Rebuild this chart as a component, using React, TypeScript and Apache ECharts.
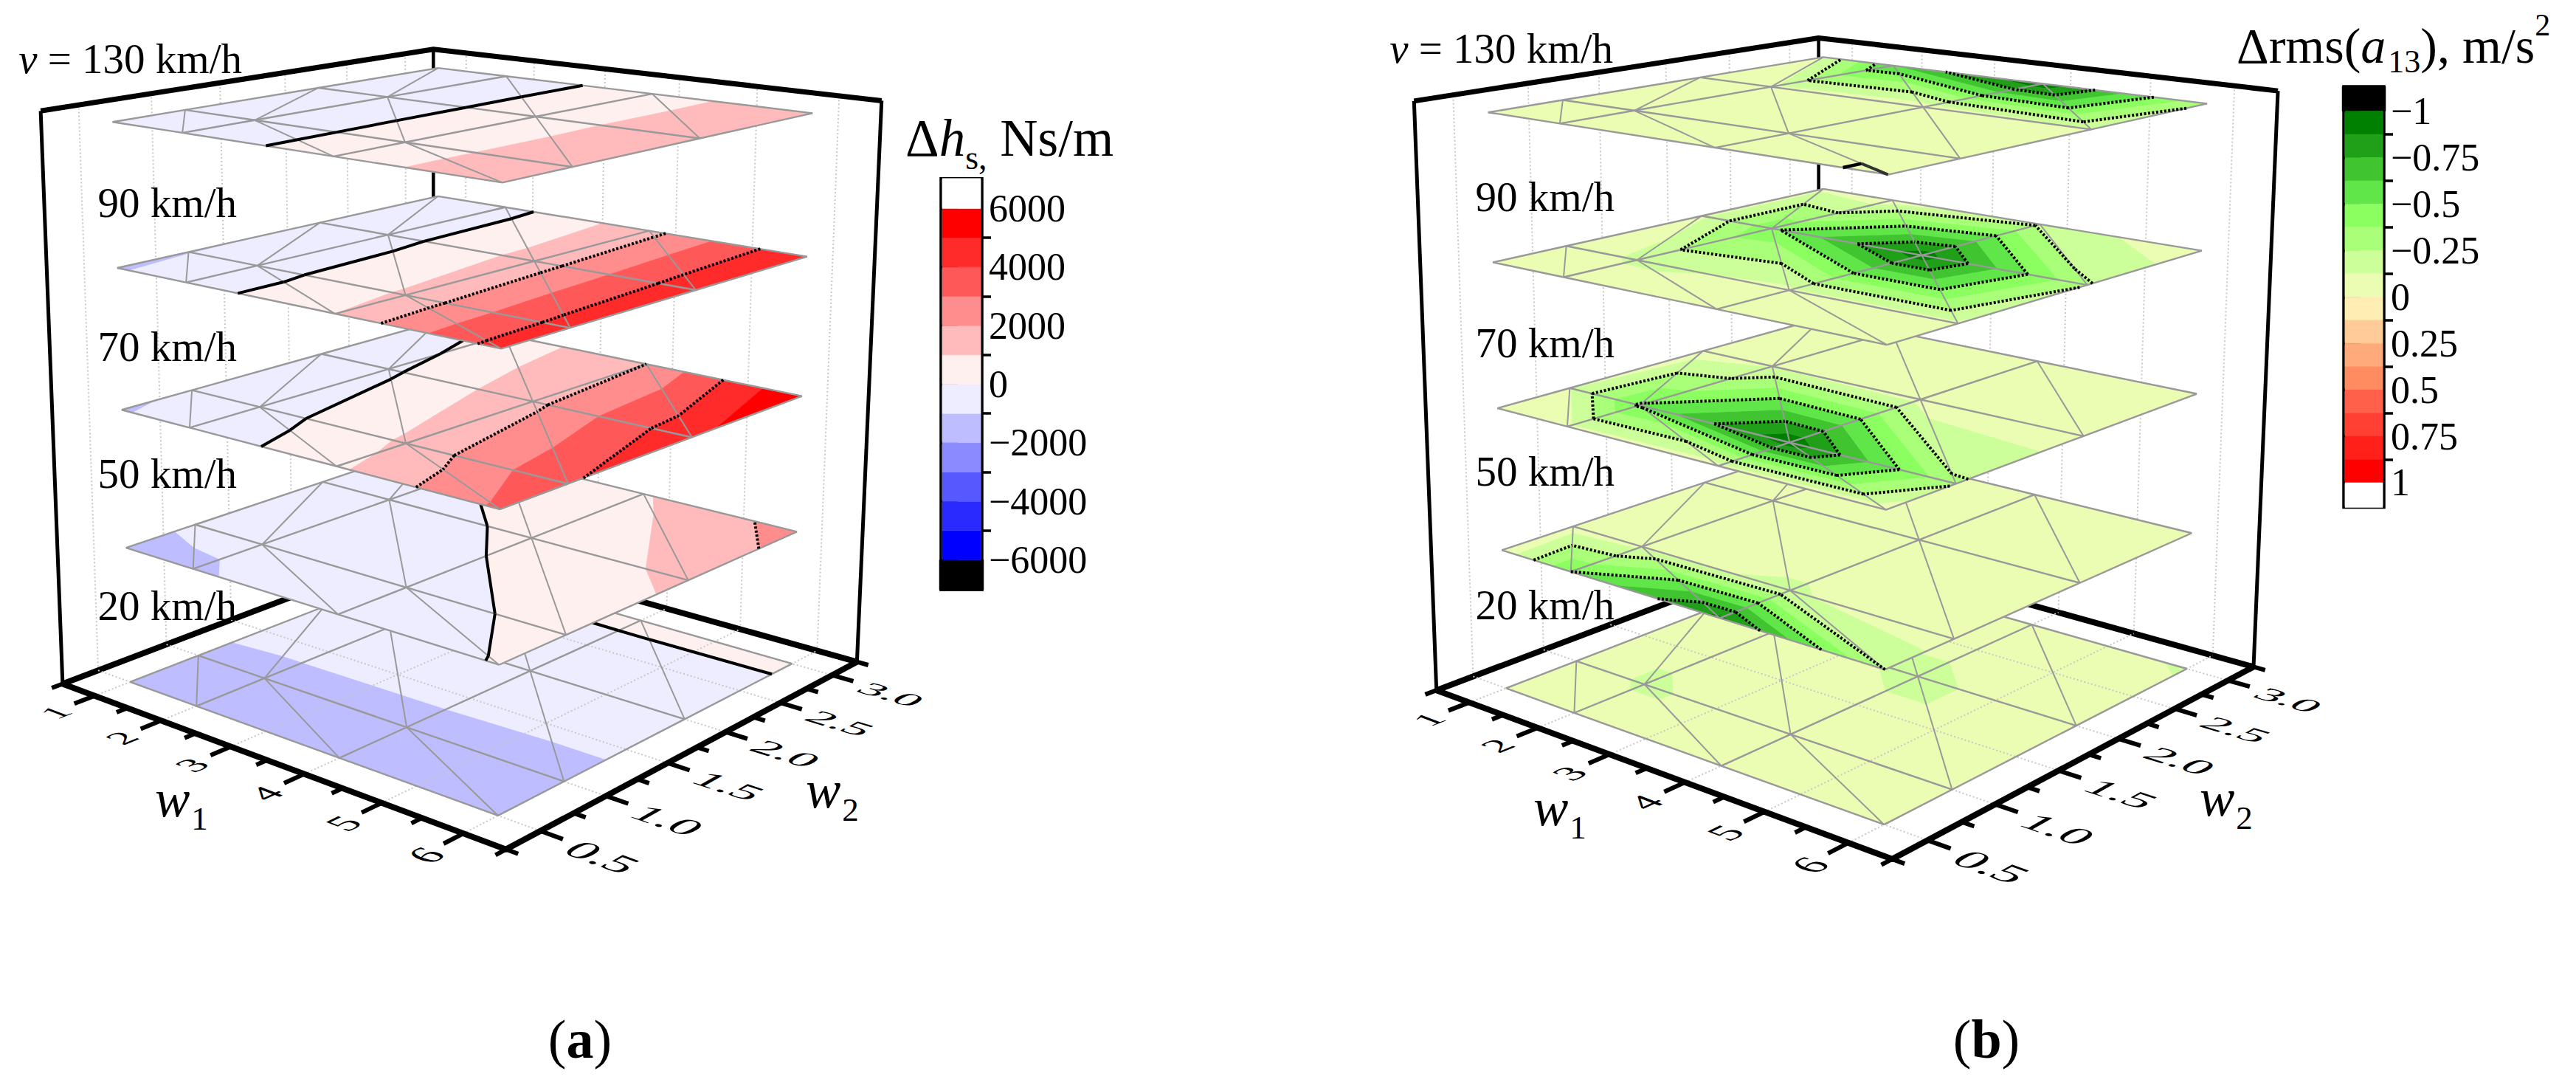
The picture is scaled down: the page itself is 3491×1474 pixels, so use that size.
import React, { useEffect, useRef } from "react";
import * as echarts from "echarts";

// ---------- data ----------
const W1_NODES = [1, 2, 4, 6];
const W2_NODES = [0.5, 1, 2, 3];
const W1_TICKS = [1, 2, 3, 4, 5, 6];
const W1_MINOR = [0.5, 1.5, 2.5, 3.5, 4.5, 5.5, 6.5];
const W2_TICKS = [0.5, 1, 1.5, 2, 2.5, 3];
const W2_MINOR = [0.25, 0.75, 1.25, 1.75, 2.25, 2.75, 3.25];
const SPEEDS = ["20 km/h", "50 km/h", "70 km/h", "90 km/h", "130 km/h"];

// rows: w2 = 0.5, 1, 2, 3 ; columns: w1 = 1, 2, 4, 6
const hs20 = [[-1530, -1530, -1530, -1530], [-1170, -1200, -1210, -1240], [-520, -520, -530, -530], [130, 130, 140, 130]];
const hs50 = [[-1400, -1150, -350, 30], [-830, -760, -250, 190], [-700, -350, 150, 1300], [-200, 150, 900, 2400]];
const hs70 = [[-1040, -800, 800, 3200], [-960, -560, 1150, 3900], [-700, -200, 1700, 4750], [-480, 260, 2000, 5950]];
const hs90 = [[-1100, -560, 1000, 4470], [-1030, -560, 1150, 4550], [-990, -480, 1400, 4750], [-950, -420, 1640, 4950]];
const hs130 = [[-850, -650, 500, 1650], [-850, -640, 510, 1650], [-800, -620, 520, 1700], [-800, -600, 520, 1740]];

const rms20 = [[-0.03, -0.03, -0.03, -0.03], [-0.03, -0.15, -0.03, -0.03], [-0.03, -0.03, -0.16, -0.03], [-0.03, -0.03, -0.03, -0.14]];
const rms50 = [[-0.03, -0.5, -0.92, -0.25], [-0.06, -0.1, -0.14, -0.04], [-0.03, -0.03, -0.03, -0.03], [-0.03, -0.03, -0.03, -0.03]];
const rms70 = [[-0.03, -0.1, -0.08, -0.05], [-0.12, -0.52, -0.97, -0.27], [-0.05, -0.12, -0.08, -0.05], [-0.03, -0.03, -0.03, -0.03]];
const rms90 = [[-0.03, -0.03, -0.05, -0.05], [-0.03, -0.15, -0.1, -0.1], [-0.1, -0.47, -0.95, -0.26], [-0.1, -0.06, -0.22, -0.03]];
const rms130 = [[-0.03, -0.03, -0.03, -0.03], [-0.03, -0.03, -0.03, -0.03], [-0.03, -0.1, -0.06, -0.12], [-0.12, -0.62, -0.98, -0.28]];
// short zero-level contour at the front corner of the 130 km/h plate: [w1, w2]
const RMS130_ZERO_FRAGMENT = [[5.5, 0.5], [5.5, 0.625], [6, 0.5]];

const HS_EDGES = [-1e9, -6000, -5000, -4000, -3000, -2000, -1000, 0, 1000, 2000, 3000, 4000, 5000, 6000, 1e9];
const HS_COLORS = ["#000000", "#0000ff", "#2a2aff", "#5858ff", "#8b8bff", "#bdbdff", "#ededff", "#fff0f0", "#ffbbbb", "#ff8d8d", "#ff5858", "#ff2a2a", "#ff0000", "#ffffff"];
const HS_MAJOR = [-6000, -4000, -2000, 0, 2000, 4000, 6000];
const HS_MINOR = [-5000, -3000, -1000, 1000, 3000, 5000];
const HS_SOLID = [0];
const HS_DOTTED = [2000, 4000];

const RMS_EDGES = [-1e9, -1, -0.875, -0.75, -0.625, -0.5, -0.375, -0.25, -0.125, 0, 0.125, 0.25, 0.375, 0.5, 0.625, 0.75, 0.875, 1, 1e9];
const RMS_COLORS = ["#000000", "#008000", "#20a018", "#40c530", "#60e648", "#8cff60", "#aaff78", "#ccff99", "#ebfdb3", "#ffeeb3", "#ffcc99", "#ffaa7a", "#ff8c60", "#ff604a", "#ff4033", "#ff201a", "#ff0000", "#ffffff"];
const RMS_MAJOR = [-1, -0.75, -0.5, -0.25, 0, 0.25, 0.5, 0.75, 1];
const RMS_MINOR = [-0.875, -0.625, -0.375, -0.125, 0.125, 0.375, 0.625, 0.875];
const RMS_SOLID: number[] = [];
const RMS_DOTTED = [-0.25, -0.5, -0.75];

// ---------- projection calibration: [w1, w2, layer, px, py] ----------
const CAL_A = [
  [1, 0.5, 4, 153, 160], [1, 3, 4, 590, 86], [6, 3, 4, 1102, 150], [6, 0.5, 4, 682, 244],
  [1, 0.5, 3, 158, 360], [1, 3, 3, 593, 262], [6, 3, 3, 1095, 345], [6, 0.5, 3, 679, 471],
  [1, 0.5, 2, 166, 554], [6, 3, 2, 1087, 536], [6, 0.5, 2, 676, 690],
  [1, 0.5, 1, 173, 743], [6, 3, 1, 1079, 720], [6, 0.5, 1, 677, 900],
  [1, 0.5, 0, 177, 925], [6, 3, 0, 1073, 900], [6, 0.5, 0, 675.5, 1104],
  [0.5, 0.25, 0, 85, 928], [6.5, 0.25, 0, 684, 1152], [6.5, 3.25, 0, 1161, 897],
  [0.5, 0.25, 4.085, 53, 160], [0.5, 3.25, 4.085, 590, 71], [6.5, 3.25, 4.085, 1196, 146],
];
const CAL_B = [
  [1, 0.5, 4, 2016, 146], [1, 3, 4, 2469, 71], [6, 3, 4, 2992, 136], [6, 0.5, 4, 2560, 233],
  [1, 0.5, 3, 2023, 353], [1, 3, 3, 2469, 252], [6, 3, 3, 2983, 338], [6, 0.5, 3, 2558, 466],
  [1, 0.5, 2, 2030, 553], [6, 3, 2, 2976, 533], [6, 0.5, 2, 2555, 691],
  [1, 0.5, 1, 2037, 746], [6, 3, 1, 2968, 723], [6, 0.5, 1, 2555, 907],
  [1, 0.5, 0, 2043, 933], [6, 3, 0, 2963, 905], [6, 0.5, 0, 2552, 1117],
  [0.5, 0.25, 0, 1946, 937], [6.5, 0.25, 0, 2563, 1164], [6.5, 3.25, 0, 3057, 904],
  [0.5, 0.25, 4.08, 1915, 147], [0.5, 3.25, 4.08, 2467, 57], [6.5, 3.25, 4.08, 3089, 134],
];

const FONT = "'Liberation Serif', 'Times New Roman', serif";
const W1_MIN = 0.5, W1_MAX = 6.5, W2_MIN = 0.25, W2_MAX = 3.25, H_TOP = 4.08;

function fitProjection(cal: number[][]) {
  const n = 11;
  const A = Array.from({ length: n }, () => new Array(n + 1).fill(0));
  const add = (r: number[], t: number) => {
    for (let i = 0; i < n; i++) {
      for (let j = 0; j < n; j++) A[i][j] += r[i] * r[j];
      A[i][n] += r[i] * t;
    }
  };
  for (const [X, Y, Z, px, py] of cal) {
    const u = px / 1000, v = py / 1000;
    add([X, Y, Z, 1, 0, 0, 0, 0, -u * X, -u * Y, -u * Z], u);
    add([0, 0, 0, 0, X, Y, Z, 1, -v * X, -v * Y, -v * Z], v);
  }
  for (let c = 0; c < n; c++) {
    let best = c;
    for (let r = c + 1; r < n; r++) if (Math.abs(A[r][c]) > Math.abs(A[best][c])) best = r;
    [A[c], A[best]] = [A[best], A[c]];
    for (let r = 0; r < n; r++) {
      if (r === c) continue;
      const f = A[r][c] / A[c][c];
      for (let k = c; k <= n; k++) A[r][k] -= f * A[c][k];
    }
  }
  const p = A.map((row, i) => row[n] / row[i]);
  return (w1: number, w2: number, h: number): [number, number] => {
    const d = p[8] * w1 + p[9] * w2 + p[10] * h + 1;
    return [
      (1000 * (p[0] * w1 + p[1] * w2 + p[2] * h + p[3])) / d,
      (1000 * (p[4] * w1 + p[5] * w2 + p[6] * h + p[7])) / d,
    ];
  };
}

type V = { a: number; b: number; z: number };
function triangles(values: number[][]) {
  const node = (i: number, j: number): V => ({ a: W1_NODES[i], b: W2_NODES[j], z: values[j][i] });
  const out: V[][] = [];
  for (let i = 0; i < 3; i++)
    for (let j = 0; j < 3; j++) {
      out.push([node(i, j), node(i + 1, j), node(i, j + 1)]);
      out.push([node(i + 1, j), node(i + 1, j + 1), node(i, j + 1)]);
    }
  return out;
}
const lerp = (p: V, q: V, lvl: number): V => {
  const t = (lvl - p.z) / (q.z - p.z);
  return { a: p.a + t * (q.a - p.a), b: p.b + t * (q.b - p.b), z: lvl };
};
function clip(poly: V[], lvl: number, keepAbove: boolean) {
  const out: V[] = [];
  const ins = (v: V) => (keepAbove ? v.z >= lvl : v.z <= lvl);
  poly.forEach((cur, idx) => {
    const nxt = poly[(idx + 1) % poly.length];
    if (ins(cur)) out.push(cur);
    if (ins(cur) !== ins(nxt)) out.push(lerp(cur, nxt, lvl));
  });
  return out;
}
function crossing(tri: V[], lvl: number) {
  const pts: V[] = [];
  for (let i = 0; i < 3; i++) {
    const p = tri[i], q = tri[(i + 1) % 3];
    if (p.z < lvl !== q.z < lvl) pts.push(lerp(p, q, lvl));
  }
  return pts.length === 2 ? pts : null;
}

const line = (p: number[], q: number[], stroke: string, lineWidth: number, lineDash?: number[]) => ({
  type: "line",
  shape: { x1: p[0], y1: p[1], x2: q[0], y2: q[1] },
  style: { stroke, lineWidth, lineDash, fill: null, lineCap: "butt" },
});
const poly = (pts: number[][], stroke: string, lineWidth: number) => ({
  type: "polyline",
  shape: { points: pts },
  style: { stroke, lineWidth, fill: null, lineJoin: "round" },
});
const text = (x: number, y: number, t: string, fontSize: number, align: string, rich?: any, extra?: any) => ({
  type: "text",
  x,
  y,
  ...extra,
  style: {
    text: t, x: 0, y: 0, fill: "#000", fontSize, fontFamily: FONT,
    align, verticalAlign: "middle", textAlign: align, textVerticalAlign: "middle", rich, legacy: false,
  },
});
const RICH_BASE = { fontFamily: FONT, fill: "#000" };

function single(z: number, children: any[]) {
  return {
    type: "custom", coordinateSystem: "none", silent: true, clip: false, z,
    data: [[0]],
    renderItem: () => ({ type: "group", children }),
  };
}

type Panel = {
  cal: number[][]; layers: number[][][]; edges: number[]; colors: string[]; solid: number[]; dotted: number[];
  speedRight: number; topRight: number; speedY: number[];
  w1At: number[]; w2At: number[]; cap: string; capX: number; topFragment?: number[][];
};

function panelSeries(pn: Panel) {
  const P = fitProjection(pn.cal);
  const series: any[] = [];
  const GRID = "#c8c8c8";
  const back: any[] = [];
  W2_TICKS.forEach((t) => back.push(line(P(W1_MIN, t, 0), P(W1_MIN, t, H_TOP), GRID, 2, [2, 3])));
  W1_TICKS.forEach((t) => back.push(line(P(t, W2_MAX, 0), P(t, W2_MAX, H_TOP), GRID, 2, [2, 3])));
  back.push(poly([P(W1_MIN, W2_MIN, 0), P(W1_MIN, W2_MAX, 0), P(W1_MAX, W2_MAX, 0)], "#000", 8));
  back.push(line(P(W1_MIN, W2_MAX, 0), P(W1_MIN, W2_MAX, H_TOP), "#000", 4.5));
  back.push(line(P(W1_MIN, W2_MIN, 0), P(W1_MIN, W2_MIN, H_TOP), "#000", 5));
  back.push(line(P(W1_MAX, W2_MAX, 0), P(W1_MAX, W2_MAX, H_TOP), "#000", 5));
  back.push(poly([P(W1_MIN, W2_MIN, H_TOP), P(W1_MIN, W2_MAX, H_TOP), P(W1_MAX, W2_MAX, H_TOP)], "#000", 7));
  series.push(single(2, back));

  pn.layers.forEach((values, k) => {
    const tris = triangles(values);
    const zBase = 3 + k * 3;
    series.push({
      type: "custom", coordinateSystem: "none", silent: true, clip: false, z: zBase,
      name: SPEEDS[k],
      data: tris.map((_, i) => [i]),
      renderItem: (params: any) => {
        const tri = tris[params.dataIndex];
        const children: any[] = [];
        pn.colors.forEach((color, b) => {
          let pg = clip(tri, pn.edges[b], true);
          if (pg.length) pg = clip(pg, pn.edges[b + 1], false);
          if (pg.length >= 3)
            children.push({
              type: "polygon",
              shape: { points: pg.map((v) => P(v.a, v.b, k)) },
              style: { fill: color, stroke: color, lineWidth: 0.8 },
            });
        });
        return { type: "group", children };
      },
    });
    if (k === 0) {
      const fg: any[] = [];
      W1_TICKS.forEach((t) => fg.push(line(P(t, W2_MIN, 0), P(t, W2_MAX, 0), GRID, 2, [2, 3])));
      W2_TICKS.forEach((t) => fg.push(line(P(W1_MIN, t, 0), P(W1_MAX, t, 0), GRID, 2, [2, 3])));
      series.push(single(zBase + 1, fg));
    }
    // mesh edges and contours
    const over: any[] = [];
    const MESH = "#999999";
    W2_NODES.forEach((b) => over.push(poly(W1_NODES.map((a) => P(a, b, k)), MESH, 2.4)));
    W1_NODES.forEach((a) => over.push(poly(W2_NODES.map((b) => P(a, b, k)), MESH, 2.4)));
    for (let i = 0; i < 3; i++)
      for (let j = 0; j < 3; j++)
        over.push(line(P(W1_NODES[i], W2_NODES[j + 1], k), P(W1_NODES[i + 1], W2_NODES[j], k), MESH, 2));
    tris.forEach((tri) => {
      pn.solid.forEach((lvl) => {
        const s = crossing(tri, lvl);
        if (s) over.push(line(P(s[0].a, s[0].b, k), P(s[1].a, s[1].b, k), "#000", 4));
      });
      pn.dotted.forEach((lvl) => {
        const s = crossing(tri, lvl);
        if (s) over.push(line(P(s[0].a, s[0].b, k), P(s[1].a, s[1].b, k), "#000", 4, [3, 2.5]));
      });
    });
    if (k === 4 && pn.topFragment) {
      const f = pn.topFragment;
      over.push(line(P(f[0][0], f[0][1], k), P(f[1][0], f[1][1], k), "#000", 4.5));
      over.push(line(P(f[1][0], f[1][1], k), P(f[2][0], f[2][1], k), "#333", 4));
    }
    series.push(single(zBase + 2, over));
  });

  const front: any[] = [];
  front.push(poly([P(W1_MIN, W2_MIN, 0), P(W1_MAX, W2_MIN, 0), P(W1_MAX, W2_MAX, 0)], "#000", 8));
  W1_TICKS.forEach((t) => front.push(line(P(t, W2_MIN, 0), P(t, W2_MIN - 0.14, 0), "#000", 6)));
  W1_MINOR.forEach((t) => front.push(line(P(t, W2_MIN, 0), P(t, W2_MIN - 0.075, 0), "#000", 6)));
  W2_TICKS.forEach((t) => front.push(line(P(W1_MAX, t, 0), P(W1_MAX + 0.26, t, 0), "#000", 6)));
  W2_MINOR.forEach((t) => front.push(line(P(W1_MAX, t, 0), P(W1_MAX + 0.14, t, 0), "#000", 6)));
  const shear = (o: number[], e: number[], d: number[], fs: number) => {
    const m = [(e[0] - o[0]) / fs, (e[1] - o[1]) / fs, (d[0] - o[0]) / fs, (d[1] - o[1]) / fs];
    return { scaleX: m[0], scaleY: m[3], skewY: -Math.atan(m[1] / m[0]), skewX: Math.atan(m[2] / m[3]) };
  };
  W1_TICKS.forEach((t) => {
    const a = t + 0.03, b = W2_MIN - 0.28;
    const o = P(a, b, 0);
    front.push(text(o[0], o[1], String(t), 50, "center", undefined,
      shear(o, P(a, b + 0.25, 0), P(a + 0.44, b, 0), 50)));
  });
  W2_TICKS.forEach((t) => {
    const a = W1_MAX + 0.75, b = t - 0.03;
    const o = P(a, b, 0);
    front.push(text(o[0], o[1], t.toFixed(1), 50, "center", undefined,
      shear(o, P(a + 0.54, b, 0), P(a, b - 0.24, 0), 50)));
  });
  const richW = {
    w: { ...RICH_BASE, fontSize: 71, fontStyle: "italic" },
    n: { ...RICH_BASE, fontSize: 45, padding: [53, 0, 0, 2] },
  };
  front.push(text(pn.w1At[0], pn.w1At[1], "{w|w}{n|1}", 71, "left", richW));
  front.push(text(pn.w2At[0], pn.w2At[1], "{w|w}{n|2}", 71, "left", richW));
  const richV = {
    i: { ...RICH_BASE, fontSize: 57, fontStyle: "italic" },
    r: { ...RICH_BASE, fontSize: 57 },
  };
  SPEEDS.forEach((s, k) => {
    if (k === 4) front.push(text(pn.topRight, pn.speedY[k], "{i|v}{r| = 130 km/h}", 57, "right", richV));
    else front.push(text(pn.speedRight, pn.speedY[k], s, 57, "right"));
  });
  front.push(text(pn.capX, 1408, `{r|(}{b|${pn.cap}}{r|)}`, 74, "center", {
    r: { ...RICH_BASE, fontSize: 74 },
    b: { ...RICH_BASE, fontSize: 74, fontWeight: "bold" },
  }));
  series.push(single(30, front));
  return series;
}

const barSeries = (xIdx: number, yIdx: number, edges: number[], colors: string[], lo: number, hi: number) => ({
  type: "custom", coordinateSystem: "cartesian2d", xAxisIndex: xIdx, yAxisIndex: yIdx, silent: true, clip: false, z: 40,
  data: colors.map((c, i) => [Math.max(edges[i], lo), Math.min(edges[i + 1], hi), i]),
  renderItem: (_: any, api: any) => {
    const a = api.coord([0, api.value(0)]);
    const b = api.coord([1, api.value(1)]);
    const col = colors[api.value(2)];
    const dark = col === "#000000";
    return {
      type: "rect",
      shape: {
        x: a[0] + (dark ? -2 : 2), y: Math.min(a[1], b[1]), width: b[0] - a[0] + (dark ? 4 : -4),
        height: Math.abs(b[1] - a[1]),
      },
      style: { fill: col, stroke: col, lineWidth: 0.5 },
    };
  },
});
const fmt = (v: number | string) => String(v).replace("-", "\u2212");
const yAxes = (gridIndex: number, min: number, max: number, inverse: boolean, major: number[], minor: number[]) => {
  const base = { type: "value", gridIndex, min, max, inverse, position: "right", splitLine: { show: false }, axisLine: { show: false } };
  return [
    {
      ...base,
      axisTick: { show: true, length: 23, customValues: major, lineStyle: { color: "#000", width: 3.5 } },
      axisLabel: {
        show: true, customValues: major, margin: 9, fontSize: 52, fontFamily: FONT, color: "#000",
        formatter: (v: number) => fmt(v),
      },
    },
    {
      ...base,
      axisTick: { show: true, length: 12, customValues: minor, lineStyle: { color: "#000", width: 3.5 } },
      axisLabel: { show: false },
    },
  ];
};

function buildOption() {
  const a: Panel = {
    cal: CAL_A, layers: [hs20, hs50, hs70, hs90, hs130], edges: HS_EDGES, colors: HS_COLORS,
    solid: HS_SOLID, dotted: HS_DOTTED, speedRight: 321, topRight: 328, speedY: [820, 641, 469, 274, 79],
    w1At: [210, 1082], w2At: [1092, 1070], cap: "a", capX: 786,
  };
  const b: Panel = {
    cal: CAL_B, layers: [rms20, rms50, rms70, rms90, rms130], edges: RMS_EDGES, colors: RMS_COLORS,
    solid: RMS_SOLID, dotted: RMS_DOTTED, speedRight: 2188, topRight: 2186, speedY: [819, 638, 464, 266, 65],
    w1At: [2078, 1094], w2At: [2981, 1081], cap: "b", capX: 2692, topFragment: RMS130_ZERO_FRAGMENT,
  };
  const titles = single(41, [
    text(1227, 187, "{d|\u0394}{h|h}{s|s,}{d| Ns/m}", 71, "left", {
      d: { ...RICH_BASE, fontSize: 71 },
      h: { ...RICH_BASE, fontSize: 71, fontStyle: "italic" },
      s: { ...RICH_BASE, fontSize: 46, padding: [52, 0, 0, 0] },
    }),
    text(3031, 62, "{d|\u0394rms(}{i|a}{s|13}{d|), m/s}{p|2}", 68, "left", {
      d: { ...RICH_BASE, fontSize: 68 },
      i: { ...RICH_BASE, fontSize: 68, fontStyle: "italic" },
      s: { ...RICH_BASE, fontSize: 44, padding: [42, 0, 0, 3] },
      p: { ...RICH_BASE, fontSize: 42, padding: [0, 0, 57, 0] },
    }),
  ]);
  return {
    animation: false,
    backgroundColor: "#fff",
    grid: [
      { left: 1275, top: 241.7, width: 56, height: 557.6, show: true, borderColor: "#000", borderWidth: 3.5, backgroundColor: "#fff" },
      { left: 3176, top: 117.1, width: 55, height: 570.3, show: true, borderColor: "#000", borderWidth: 3.5, backgroundColor: "#fff" },
    ],
    xAxis: [
      { type: "value", gridIndex: 0, min: 0, max: 1, show: false },
      { type: "value", gridIndex: 1, min: 0, max: 1, show: false },
    ],
    yAxis: [
      ...yAxes(0, -7030, 7030, false, HS_MAJOR, HS_MINOR),
      ...yAxes(1, -1.133, 1.133, true, RMS_MAJOR, RMS_MINOR),
    ],
    series: [
      ...panelSeries(a),
      ...panelSeries(b),
      barSeries(0, 0, HS_EDGES, HS_COLORS, -7030, 7030),
      barSeries(1, 2, RMS_EDGES, RMS_COLORS, -1.133, 1.133),
      titles,
    ],
  };
}

export default function App() {
  const ref = useRef<HTMLDivElement>(null);
  useEffect(() => {
    const chart = echarts.init(ref.current!, undefined, { renderer: "svg", width: 3491, height: 1474 });
    chart.setOption(buildOption() as any);
    return () => chart.dispose();
  }, []);
  return <div ref={ref} style={{ position: "fixed", left: 0, top: 0, width: 3491, height: 1474, background: "#fff" }} />;
}
